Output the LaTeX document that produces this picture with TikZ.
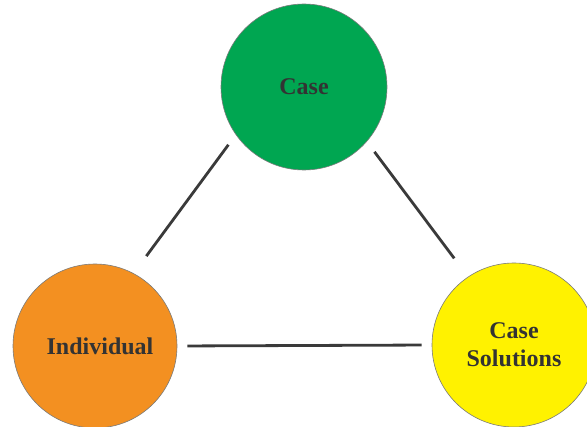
\documentclass[tikz,border=0pt]{standalone}
\usepackage{fontspec}
\setmainfont{Liberation Serif}
\definecolor{cgreen}{HTML}{00A651}
\definecolor{corange}{HTML}{F39021}
\definecolor{cyellow}{HTML}{FFF200}
\definecolor{ctext}{HTML}{333333}
\definecolor{cline}{HTML}{3A3A3A}
\definecolor{cborder}{HTML}{7A7A7A}
\tikzset{
  bubble/.style={circle, draw=cborder, line width=0.6pt, minimum size=166pt, inner sep=0pt,
    font=\fontsize{24}{28}\selectfont\bfseries, text=ctext, align=center},
  conn/.style={draw=cline, line width=2.8pt}
}
\begin{document}
\begin{tikzpicture}[x=1pt,y=-1pt]
\useasboundingbox (0,0) rectangle (587,427);
\node[bubble, fill=cgreen] (case) at (304,87) {\raisebox{-3pt}{Case}};
\node[bubble, fill=corange, minimum size=164pt] (indiv) at (95,346) {\hspace*{10pt}Individual};
\node[bubble, fill=cyellow, minimum size=164pt] (sol) at (514,345) {Case\\Solutions};
\draw[conn, shorten <=12.4pt, shorten >=21.4pt] (case.215) -- (indiv.62);
\draw[conn, shorten <=12.7pt, shorten >=23pt] (case.319) -- (sol.124);
\draw[conn, shorten <=10pt, shorten >=10pt] (indiv.east) -- (sol.west);
\end{tikzpicture}
\end{document}
